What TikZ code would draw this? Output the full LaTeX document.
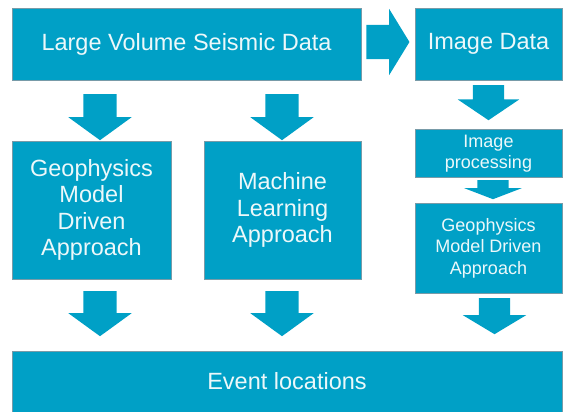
\documentclass[tikz,border=0pt]{standalone}
\usepackage{fontspec}
\setmainfont{Liberation Sans}
\usetikzlibrary{shapes.arrows, calc}
\definecolor{seisblue}{RGB}{0,160,198}
\definecolor{seistext}{RGB}{236,248,250}
\definecolor{seisedge}{RGB}{120,155,168}
\tikzset{
    bigbox/.style={rectangle, fill=seisblue, draw=seisedge, line width=0.5pt, inner sep=0pt, align=center, text=seistext, font=\fontsize{23.5}{26.5}\selectfont},
    smallbox/.style={bigbox, font=\fontsize{18}{21.5}\selectfont},
    barrow/.style={single arrow, fill=seisblue, draw=none, anchor=tail, inner xsep=0pt, inner ysep=16.5pt, single arrow head extend=15pt, single arrow tip angle=108}
}

\begin{document}
\begin{tikzpicture}[x=1pt, y=-1pt]
    \useasboundingbox (0,0) rectangle (563,412);

    % boxes
    \node[bigbox, minimum width=349pt, minimum height=72pt] (seis) at (186.5,44) {Large Volume Seismic Data};
    \node[bigbox, minimum width=147pt, minimum height=72pt] (img) at (488.5,44) {Image Data};
    \node[bigbox, minimum width=159pt, minimum height=138pt] (geo) at (91.5,210) {Geophysics\\Model\\Driven\\Approach};
    \node[bigbox, minimum width=157pt, minimum height=138pt] (ml) at (282.5,210) {Machine\\Learning\\Approach};
    \node[smallbox, minimum width=147pt, minimum height=48pt] (proc) at (488.5,153.5) {Image\\processing};
    \node[smallbox, minimum width=147pt, minimum height=90pt] (geotwo) at (488.5,248) {Geophysics\\Model Driven\\Approach};
    \node[bigbox, minimum width=550pt, minimum height=61pt] (event) at (287,381.5) {Event locations};

    % block arrows, placed by their tails
    \node[barrow, minimum height=43pt, inner ysep=17pt, single arrow head extend=16pt, single arrow tip angle=117] (toimg) at ($(seis.east)+(5,-2)$) {};
    \node[barrow, rotate=-90, minimum height=46pt] (togeo) at (100,94) {};
    \node[barrow, rotate=-90, minimum height=46pt] (toml) at (282,94) {};
    \node[barrow, rotate=-90, minimum height=35pt, inner ysep=15.5pt, single arrow tip angle=112] (toproc) at (488.5,85) {};
    \node[barrow, rotate=-90, minimum height=19pt, inner ysep=15.5pt, single arrow head extend=13pt, single arrow tip angle=138] (togeotwo) at (493,180) {};
    \node[barrow, rotate=-90, minimum height=45pt] (geoout) at (100,291) {};
    \node[barrow, rotate=-90, minimum height=45pt] (mlout) at (282,291) {};
    \node[barrow, rotate=-90, minimum height=36pt, inner ysep=15.5pt, single arrow head extend=16pt, single arrow tip angle=118] (geotwoout) at (494.5,298) {};
\end{tikzpicture}
\end{document}
